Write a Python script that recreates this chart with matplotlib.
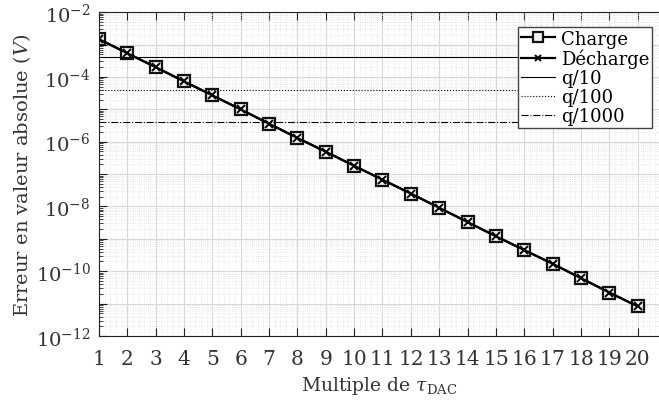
import numpy as np
import matplotlib.pyplot as plt
from matplotlib.ticker import LogLocator, MultipleLocator, FixedLocator, NullFormatter

plt.rcParams['font.family'] = ['DejaVu Serif']
plt.rcParams['mathtext.fontset'] = 'dejavuserif'

# multiples de tau
n = np.arange(1, 21)
# erreur en valeur absolue (V)
charge = [1.47e-3, 5.4e-4, 2.0e-4, 7.3e-5, 2.7e-5, 9.9e-6, 3.6e-6, 1.3e-6, 4.9e-7, 1.8e-7,
          6.7e-8, 2.5e-8, 9.1e-9, 3.3e-9, 1.2e-9, 4.5e-10, 1.7e-10, 6.1e-11, 2.2e-11, 8.2e-12]
decharge = [1.47e-3, 5.4e-4, 2.0e-4, 7.3e-5, 2.7e-5, 9.9e-6, 3.6e-6, 1.3e-6, 4.9e-7, 1.8e-7,
            6.7e-8, 2.5e-8, 9.1e-9, 3.3e-9, 1.2e-9, 4.5e-10, 1.7e-10, 6.1e-11, 2.2e-11, 8.2e-12]
q = 4.0e-3
seuils = [q / 10, q / 100, q / 1000]
seuil_labels = ['q/10', 'q/100', 'q/1000']
seuil_styles = ['-', ':', '-.']

fig = plt.figure(figsize=(6.59, 4.10), dpi=100)
ax = fig.add_axes([0.150, 0.178, 0.850, 0.790])

ax.plot(n, charge, '-', color='black', lw=1.6, marker='s', ms=8.5, mfc='#f2f2f2',
        mec='#111111', mew=1.6, label='Charge')
ax.plot(n, decharge, '-', color='black', lw=1.6, marker='x', ms=6, mew=1.4,
        label='Décharge')
for s, lab, ls in zip(seuils, seuil_labels, seuil_styles):
    ax.plot([n[0], n[-1]], [s, s], ls, color='black', lw=0.8, label=lab)

ax.set_yscale('log')
ax.set_ylim(1e-12, 1e-2)
ax.set_xlim(1, 20.75)
ax.xaxis.set_major_locator(MultipleLocator(1))
ax.xaxis.set_minor_locator(MultipleLocator(0.2))
ax.yaxis.set_major_locator(FixedLocator([10.0 ** k for k in range(-12, -1)]))
ax.yaxis.set_minor_locator(LogLocator(base=10, subs=np.arange(2, 10), numticks=20))
ax.yaxis.set_minor_formatter(NullFormatter())
ax.set_yticklabels(['$10^{%d}$' % k if k % 2 == 0 else '' for k in range(-12, -1)])

ax.grid(which='major', color='#d8d8d8', lw=0.8)
ax.grid(which='minor', color='#e2e2e2', lw=0.6, ls=':')
ax.set_axisbelow(True)
ax.tick_params(which='both', direction='in', top=True, right=False, labelsize=14.5,
               color='#222222', labelcolor='#333333')
ax.tick_params(which='major', length=6)
ax.tick_params(which='minor', length=3)
ax.tick_params(axis='x', which='minor', length=0, top=False, bottom=False)
ax.tick_params(axis='x', pad=9)
ax.tick_params(axis='y', pad=6, labelsize=14)
ax.spines['right'].set_visible(False)
for sp in ['left', 'bottom', 'top']:
    ax.spines[sp].set_color('#222222')

ax.set_xlabel(r'Multiple de $\tau_{\mathrm{DAC}}$', fontsize=13.5, color='#333333',
              labelpad=5)
ax.set_ylabel(r'Erreur en valeur absolue ($\mathit{V}$)', fontsize=14, color='#333333',
              labelpad=2)

leg = ax.legend(loc='upper right', bbox_to_anchor=(0.987, 0.954), fontsize=13,
                frameon=True, fancybox=False, edgecolor='#444444', framealpha=1,
                handlelength=1.9, handletextpad=0.3, borderpad=0.15, labelspacing=0.05,
                borderaxespad=0, markerscale=0.8)
leg.get_frame().set_linewidth(1.0)

fig.savefig('out.png', dpi=100)
